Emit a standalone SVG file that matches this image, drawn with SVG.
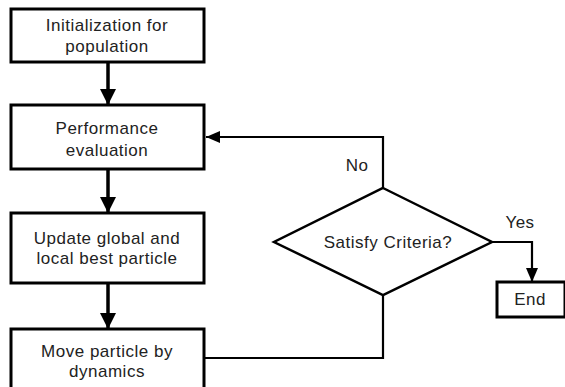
<svg xmlns="http://www.w3.org/2000/svg" width="565" height="387" viewBox="0 0 565 387">
  <defs>
    <marker id="headBig" viewBox="0 0 16 20" refX="16" refY="8" markerWidth="16" markerHeight="20" markerUnits="userSpaceOnUse" orient="auto">
      <path d="M0,0 L16,8 L0,16 Z" fill="#000"/>
    </marker>
    <marker id="headSmall" viewBox="0 0 14 12" refX="14" refY="6" markerWidth="14" markerHeight="12" markerUnits="userSpaceOnUse" orient="auto">
      <path d="M0,0 L14,6 L0,12 Z" fill="#000"/>
    </marker>
  </defs>
  <style>
    .box { fill: #fff; stroke: #000; stroke-width: 3; }
    .dia { fill: #fff; stroke: #000; stroke-width: 2.5; }
    .lbl { font-family: "Liberation Sans", Arial, sans-serif; font-size: 17px; letter-spacing: 0.5px; fill: #222; text-anchor: middle; }
    .main { fill: none; stroke: #000; stroke-width: 3.5; }
    .side { fill: none; stroke: #000; stroke-width: 2.2; }
  </style>
  <rect width="565" height="387" fill="#fff"/>

  <g id="connectors">
    <line class="main" x1="108" y1="62" x2="108" y2="105" marker-end="url(#headBig)"/>
    <line class="main" x1="108" y1="169" x2="108" y2="213" marker-end="url(#headBig)"/>
    <line class="main" x1="108" y1="283" x2="108" y2="329" marker-end="url(#headBig)"/>
    <polyline class="side" points="204,358 383,358 383,295"/>
    <polyline class="side" points="383,188 383,137 206,137" marker-end="url(#headSmall)"/>
    <polyline class="side" points="492,242 532,242 532,282" marker-end="url(#headSmall)"/>
    <text class="lbl" x="357" y="171">No</text>
    <text class="lbl" x="520" y="228">Yes</text>
  </g>

  <g id="init">
    <rect class="box" x="11" y="9" width="193" height="53"/>
    <text class="lbl" x="107" y="31">Initialization for</text>
    <text class="lbl" x="107" y="52">population</text>
  </g>

  <g id="evaluate">
    <rect class="box" x="11" y="105" width="193" height="64"/>
    <text class="lbl" x="107" y="134">Performance</text>
    <text class="lbl" x="107" y="156">evaluation</text>
  </g>

  <g id="update">
    <rect class="box" x="11" y="213" width="193" height="70"/>
    <text class="lbl" x="107" y="244">Update global and</text>
    <text class="lbl" x="107" y="264">local best particle</text>
  </g>

  <g id="move">
    <rect class="box" x="11" y="329" width="193" height="70"/>
    <text class="lbl" x="107" y="357">Move particle by</text>
    <text class="lbl" x="107" y="377">dynamics</text>
  </g>

  <g id="criteria">
    <polygon class="dia" points="383,188 492,242 383,295 274,242"/>
    <text class="lbl" x="388" y="248">Satisfy Criteria?</text>
  </g>

  <g id="end">
    <rect class="box" x="497" y="282" width="68" height="35"/>
    <text class="lbl" x="530" y="305">End</text>
  </g>
</svg>
